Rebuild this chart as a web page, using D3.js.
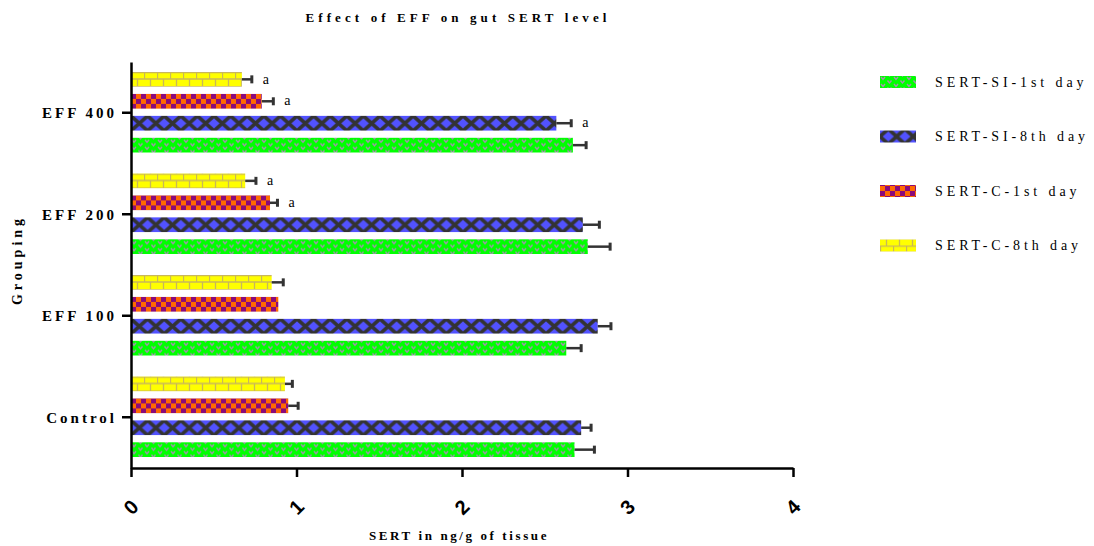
<!DOCTYPE html>
<html>
<head>
<meta charset="utf-8">
<script src="https://cdn.jsdelivr.net/npm/d3@7"></script>
<style>
  body { margin: 0; background: #fff; }
  svg { display: block; }
  .serif { font-family: "Liberation Serif", "Times New Roman", serif; }
</style>
</head>
<body>
<div id="chart"></div>
<script>
// data
const groups = ["EFF 400", "EFF 200", "EFF 100", "Control"];
// series drawn top to bottom inside each group
const seriesKeys = ["cDay8", "cDay1", "siDay8", "siDay1"];
const legendNames = ["SERT-SI-1st day", "SERT-SI-8th day", "SERT-C-1st day", "SERT-C-8th day"];
const legendKeys = ["siDay1", "siDay8", "cDay1", "cDay8"];

// values per group (EFF 400, EFF 200, EFF 100, Control)
const siDay1 = [2.67, 2.76, 2.63, 2.68];
const siDay1Err = [0.08, 0.135, 0.09, 0.12];
const siDay8 = [2.57, 2.73, 2.82, 2.72];
const siDay8Err = [0.09, 0.10, 0.08, 0.06];
const cDay1 = [0.79, 0.84, 0.89, 0.95];
const cDay1Err = [0.07, 0.045, 0, 0.06];
const cDay8 = [0.67, 0.69, 0.85, 0.93];
const cDay8Err = [0.06, 0.065, 0.07, 0.045];
const siDay1Sig = ["", "", "", ""];
const siDay8Sig = ["a", "", "", ""];
const cDay1Sig = ["a", "a", "", ""];
const cDay8Sig = ["a", "a", "", ""];
const xTicks = [0, 1, 2, 3, 4];

const series = {
    siDay1: { vals: siDay1, err: siDay1Err, sig: siDay1Sig },
    siDay8: { vals: siDay8, err: siDay8Err, sig: siDay8Sig },
    cDay1: { vals: cDay1, err: cDay1Err, sig: cDay1Sig },
    cDay8: { vals: cDay8, err: cDay8Err, sig: cDay8Sig }
};

const svgWidth = 1094, svgHeight = 546;
const svg = d3.select("#chart").append("svg")
    .attr("width", svgWidth)
    .attr("height", svgHeight);

// patterns
const defs = svg.append("defs");

// green with small grey marks
let pGreen = defs.append("pattern").attr("id", "p-siDay1")
    .attr("patternUnits", "userSpaceOnUse").attr("width", 13).attr("height", 7);
pGreen.append("rect").attr("width", 13).attr("height", 7).attr("fill", "#00ff00");
pGreen.append("path").attr("d", "M1,2 l2,2.5 l2,-2.5 M7.5,5.5 l2,2.5 l2,-2.5 M7.5,-1.5 l2,2.5 l2,-2.5")
    .attr("fill", "none").attr("stroke", "#a68fb0").attr("stroke-width", 1.4);

// blue with dark crosses
let pBlue = defs.append("pattern").attr("id", "p-siDay8")
    .attr("patternUnits", "userSpaceOnUse").attr("width", 16.6).attr("height", 15);
pBlue.append("rect").attr("width", 16.6).attr("height", 15).attr("fill", "#5252ff");
pBlue.append("path").attr("d", "M0,0 L16.6,15 M16.6,0 L0,15")
    .attr("stroke", "#333").attr("stroke-width", 3.6);

// orange / purple checker
let pRed = defs.append("pattern").attr("id", "p-cDay1")
    .attr("patternUnits", "userSpaceOnUse").attr("width", 10).attr("height", 10);
pRed.append("rect").attr("width", 10).attr("height", 10).attr("fill", "#ff6a00");
pRed.append("rect").attr("width", 5).attr("height", 5).attr("fill", "#8a0a7a");
pRed.append("rect").attr("x", 5).attr("y", 5).attr("width", 5).attr("height", 5).attr("fill", "#8a0a7a");

// yellow bricks
let pYellow = defs.append("pattern").attr("id", "p-cDay8")
    .attr("patternUnits", "userSpaceOnUse").attr("width", 13).attr("height", 14);
pYellow.append("rect").attr("width", 13).attr("height", 14).attr("fill", "#ffff00");
pYellow.append("path").attr("d", "M0,0.5 H13 M0,7 H13 M0.5,0 V7 M6.5,7 V14")
    .attr("stroke", "#c9b75a").attr("stroke-width", 1.3).attr("fill", "none");

// scales
const xScale = d3.scaleLinear().domain([0, 4]).range([131, 793]);
const yScale = d3.scaleBand().domain(groups).range([62, 468]);
const ySub = d3.scaleBand().domain(seriesKeys)
    .range([10, yScale.bandwidth() - 11])
    .paddingInner(0.33);

// bars
const barData = [];
groups.forEach((g, i) => {
    seriesKeys.forEach((k) => {
        barData.push({
            group: g, key: k,
            value: series[k].vals[i],
            err: series[k].err[i],
            sig: series[k].sig[i]
        });
    });
});

const barG = svg.append("g").selectAll("g")
    .data(barData)
    .join("g")
    .attr("transform", (d) => `translate(${xScale(0)}, ${yScale(d.group) + ySub(d.key)})`);

barG.append("rect")
    .attr("x", 1)
    .attr("y", 0)
    .attr("width", (d) => xScale(d.value) - xScale(0) - 1)
    .attr("height", ySub.bandwidth())
    .attr("fill", (d) => `url(#p-${d.key})`);

// error bars (one sided)
const errG = barG.filter((d) => d.err > 0);
errG.append("line")
    .attr("x1", (d) => xScale(d.value) - xScale(0))
    .attr("x2", (d) => xScale(d.value + d.err) - xScale(0))
    .attr("y1", ySub.bandwidth() / 2)
    .attr("y2", ySub.bandwidth() / 2)
    .attr("stroke", "#333")
    .attr("stroke-width", 2.5);
errG.append("line")
    .attr("x1", (d) => xScale(d.value + d.err) - xScale(0))
    .attr("x2", (d) => xScale(d.value + d.err) - xScale(0))
    .attr("y1", ySub.bandwidth() / 2 - 4)
    .attr("y2", ySub.bandwidth() / 2 + 4)
    .attr("stroke", "#333")
    .attr("stroke-width", 3);

// significance letters
barG.filter((d) => d.sig !== "").append("text")
    .attr("class", "serif")
    .attr("x", (d) => xScale(d.value + d.err) - xScale(0) + 11)
    .attr("y", ySub.bandwidth() / 2)
    .attr("dy", "0.3em")
    .attr("font-size", 14)
    .text((d) => d.sig);

// axes
const xAxis = svg.append("g")
    .attr("transform", "translate(0, 468)")
    .call(d3.axisBottom(xScale).tickValues(xTicks).tickSize(9).tickSizeOuter(0).tickFormat(""));
xAxis.select(".domain").attr("stroke", "#000").attr("stroke-width", 2.5);
xAxis.selectAll(".tick line").attr("stroke", "#000").attr("stroke-width", 2.5);

const yAxis = svg.append("g")
    .attr("transform", `translate(${xScale(0)}, 0)`)
    .call(d3.axisLeft(yScale).tickSize(9).tickSizeOuter(0).tickFormat(""));
yAxis.select(".domain").attr("stroke", "#000").attr("stroke-width", 2.5);
yAxis.selectAll(".tick line").attr("stroke", "#000").attr("stroke-width", 2.5);

// y tick labels
svg.append("g").selectAll("text")
    .data(groups)
    .join("text")
    .attr("class", "serif")
    .attr("x", 117)
    .attr("y", (d) => yScale(d) + yScale.bandwidth() / 2)
    .attr("dy", "0.35em")
    .attr("text-anchor", "end")
    .attr("font-size", 15)
    .attr("font-weight", "bold")
    .attr("letter-spacing", 3)
    .text((d) => d);

// x tick labels, rotated
svg.append("g").selectAll("text")
    .data(xTicks)
    .join("text")
    .attr("transform", (d) => `translate(${xScale(d)}, 507) rotate(-45)`)
    .attr("text-anchor", "middle")
    .attr("dy", "0.35em")
    .attr("font-family", "Liberation Sans, Arial, sans-serif")
    .attr("font-weight", "bold")
    .attr("font-size", 20)
    .text((d) => d);

// titles
svg.append("text")
    .attr("class", "serif")
    .attr("x", 458)
    .attr("y", 22)
    .attr("text-anchor", "middle")
    .attr("font-size", 13)
    .attr("font-weight", "bold")
    .attr("letter-spacing", 4.1)
    .text("Effect of EFF on gut SERT level");

svg.append("text")
    .attr("class", "serif")
    .attr("x", 459)
    .attr("y", 540)
    .attr("text-anchor", "middle")
    .attr("font-size", 13)
    .attr("font-weight", "bold")
    .attr("letter-spacing", 2.6)
    .text("SERT in ng/g of tissue");

svg.append("text")
    .attr("class", "serif")
    .attr("transform", "translate(22, 260) rotate(-90)")
    .attr("text-anchor", "middle")
    .attr("font-size", 14)
    .attr("font-weight", "bold")
    .attr("letter-spacing", 4)
    .text("Grouping");

// legend
const legend = svg.append("g").selectAll("g")
    .data(legendKeys)
    .join("g")
    .attr("transform", (d, i) => `translate(880, ${82 + i * 54.5})`);
legend.append("rect")
    .attr("x", 0)
    .attr("y", -6)
    .attr("width", 36)
    .attr("height", 12)
    .attr("fill", (d) => `url(#p-${d})`);
legend.append("text")
    .attr("class", "serif")
    .attr("x", 55)
    .attr("y", 0)
    .attr("dy", "0.35em")
    .attr("font-size", 14)
    .attr("letter-spacing", 3.9)
    .text((d, i) => legendNames[i]);
</script>
</body>
</html>
